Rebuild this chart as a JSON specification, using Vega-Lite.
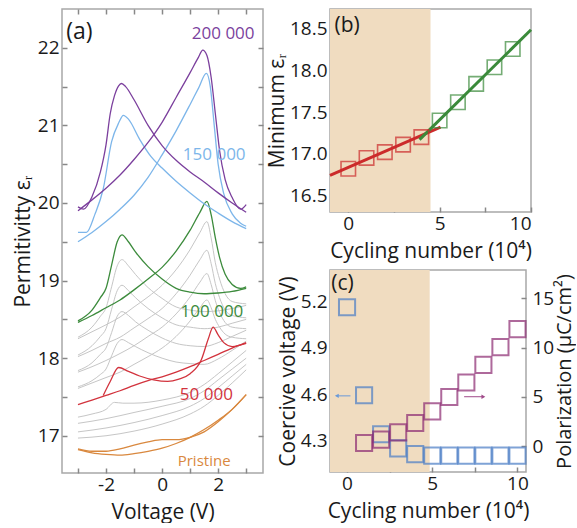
{
"$schema": "https://vega.github.io/schema/vega-lite/v6.json",
"padding": {"left": 11, "top": 7, "right": 0, "bottom": 0},
"config": {
 "font": "Open Sans",
 "view": {"stroke": "#a8a8a8", "strokeWidth": 1.5},
 "axis": {"labelFont": "Open Sans", "titleFont": "Open Sans", "labelFontSize": 19, "titleFontSize": 21, "titleFontWeight": "normal", "labelColor": "#1a1a1a", "titleColor": "#1a1a1a", "ticks": true, "tickColor": "#888888", "tickSize": 5, "offset": -5, "tickWidth": 1.5, "zindex": 1, "domain": false, "grid": false, "labelPadding": 3, "titlePadding": 4},
 "axisBottom": {"labelPadding": 2, "titlePadding": 7}
},
"resolve": {"scale": {"color": "independent"}},
"datasets": {
 "gray": [
  {"g":"g90A","v":-3,"e":18.25},{"g":"g90A","v":-2.5,"e":18.34},{"g":"g90A","v":-2,"e":18.43},{"g":"g90A","v":-1.5,"e":18.53},{"g":"g90A","v":-1,"e":18.66},{"g":"g90A","v":-0.5,"e":18.79},{"g":"g90A","v":0,"e":18.94},{"g":"g90A","v":0.5,"e":19.14},{"g":"g90A","v":1,"e":19.4},{"g":"g90A","v":1.35,"e":19.62},{"g":"g90A","v":1.6,"e":19.76},{"g":"g90A","v":1.75,"e":19.55},{"g":"g90A","v":1.9,"e":19.23},{"g":"g90A","v":2.05,"e":19.02},{"g":"g90A","v":2.25,"e":18.83},{"g":"g90A","v":2.5,"e":18.73},{"g":"g90A","v":3,"e":18.7},
  {"g":"g90B","v":-3,"e":18.27},{"g":"g90B","v":-2.5,"e":18.4},{"g":"g90B","v":-2.2,"e":18.54},{"g":"g90B","v":-2,"e":18.65},{"g":"g90B","v":-1.8,"e":18.92},{"g":"g90B","v":-1.6,"e":19.19},{"g":"g90B","v":-1.43,"e":19.27},{"g":"g90B","v":-1.2,"e":19.19},{"g":"g90B","v":-0.95,"e":19.08},{"g":"g90B","v":-0.5,"e":18.91},{"g":"g90B","v":0,"e":18.77},{"g":"g90B","v":0.5,"e":18.66},{"g":"g90B","v":1,"e":18.62},{"g":"g90B","v":1.5,"e":18.6},{"g":"g90B","v":2,"e":18.61},{"g":"g90B","v":2.5,"e":18.64},{"g":"g90B","v":3,"e":18.68},
  {"g":"g80A","v":-3,"e":18.02},{"g":"g80A","v":-2.5,"e":18.1},{"g":"g80A","v":-2,"e":18.19},{"g":"g80A","v":-1.5,"e":18.27},{"g":"g80A","v":-1,"e":18.39},{"g":"g80A","v":-0.5,"e":18.51},{"g":"g80A","v":0,"e":18.64},{"g":"g80A","v":0.5,"e":18.83},{"g":"g80A","v":1,"e":19.07},{"g":"g80A","v":1.35,"e":19.27},{"g":"g80A","v":1.6,"e":19.39},{"g":"g80A","v":1.75,"e":19.22},{"g":"g80A","v":1.9,"e":18.96},{"g":"g80A","v":2.05,"e":18.78},{"g":"g80A","v":2.25,"e":18.62},{"g":"g80A","v":2.5,"e":18.55},{"g":"g80A","v":3,"e":18.52},
  {"g":"g80B","v":-3,"e":18.04},{"g":"g80B","v":-2.5,"e":18.16},{"g":"g80B","v":-2.2,"e":18.28},{"g":"g80B","v":-2,"e":18.38},{"g":"g80B","v":-1.8,"e":18.63},{"g":"g80B","v":-1.6,"e":18.87},{"g":"g80B","v":-1.43,"e":18.94},{"g":"g80B","v":-1.2,"e":18.87},{"g":"g80B","v":-0.95,"e":18.78},{"g":"g80B","v":-0.5,"e":18.64},{"g":"g80B","v":0,"e":18.52},{"g":"g80B","v":0.5,"e":18.43},{"g":"g80B","v":1,"e":18.4},{"g":"g80B","v":1.5,"e":18.38},{"g":"g80B","v":2,"e":18.4},{"g":"g80B","v":2.5,"e":18.45},{"g":"g80B","v":3,"e":18.5},
  {"g":"g70A","v":-3,"e":17.82},{"g":"g70A","v":-2.5,"e":17.89},{"g":"g70A","v":-2,"e":17.97},{"g":"g70A","v":-1.5,"e":18.06},{"g":"g70A","v":-1,"e":18.16},{"g":"g70A","v":-0.5,"e":18.28},{"g":"g70A","v":0,"e":18.4},{"g":"g70A","v":0.5,"e":18.57},{"g":"g70A","v":1,"e":18.79},{"g":"g70A","v":1.35,"e":18.98},{"g":"g70A","v":1.6,"e":19.09},{"g":"g70A","v":1.75,"e":18.95},{"g":"g70A","v":1.9,"e":18.74},{"g":"g70A","v":2.05,"e":18.59},{"g":"g70A","v":2.25,"e":18.46},{"g":"g70A","v":2.5,"e":18.4},{"g":"g70A","v":3,"e":18.38},
  {"g":"g70B","v":-3,"e":17.84},{"g":"g70B","v":-2.5,"e":17.94},{"g":"g70B","v":-2.2,"e":18.05},{"g":"g70B","v":-2,"e":18.13},{"g":"g70B","v":-1.8,"e":18.33},{"g":"g70B","v":-1.6,"e":18.54},{"g":"g70B","v":-1.43,"e":18.6},{"g":"g70B","v":-1.2,"e":18.55},{"g":"g70B","v":-0.95,"e":18.47},{"g":"g70B","v":-0.5,"e":18.36},{"g":"g70B","v":0,"e":18.26},{"g":"g70B","v":0.5,"e":18.19},{"g":"g70B","v":1,"e":18.16},{"g":"g70B","v":1.5,"e":18.15},{"g":"g70B","v":2,"e":18.2},{"g":"g70B","v":2.5,"e":18.28},{"g":"g70B","v":3,"e":18.36},
  {"g":"g60A","v":-3,"e":17.61},{"g":"g60A","v":-2.5,"e":17.68},{"g":"g60A","v":-2,"e":17.75},{"g":"g60A","v":-1.5,"e":17.82},{"g":"g60A","v":-1,"e":17.92},{"g":"g60A","v":-0.5,"e":18.02},{"g":"g60A","v":0,"e":18.13},{"g":"g60A","v":0.5,"e":18.28},{"g":"g60A","v":1,"e":18.48},{"g":"g60A","v":1.35,"e":18.65},{"g":"g60A","v":1.6,"e":18.75},{"g":"g60A","v":1.75,"e":18.65},{"g":"g60A","v":1.9,"e":18.5},{"g":"g60A","v":2.05,"e":18.4},{"g":"g60A","v":2.25,"e":18.31},{"g":"g60A","v":2.5,"e":18.27},{"g":"g60A","v":3,"e":18.25},
  {"g":"g60B","v":-3,"e":17.63},{"g":"g60B","v":-2.5,"e":17.71},{"g":"g60B","v":-2.2,"e":17.79},{"g":"g60B","v":-2,"e":17.86},{"g":"g60B","v":-1.8,"e":18.03},{"g":"g60B","v":-1.6,"e":18.19},{"g":"g60B","v":-1.43,"e":18.24},{"g":"g60B","v":-1.2,"e":18.2},{"g":"g60B","v":-0.95,"e":18.15},{"g":"g60B","v":-0.5,"e":18.07},{"g":"g60B","v":0,"e":18.0},{"g":"g60B","v":0.5,"e":17.95},{"g":"g60B","v":1,"e":17.93},{"g":"g60B","v":1.5,"e":17.92},{"g":"g60B","v":2,"e":17.99},{"g":"g60B","v":2.5,"e":18.1},{"g":"g60B","v":3,"e":18.22},
  {"g":"l4","v":-3,"e":17.24},{"g":"l4","v":-2.5,"e":17.28},{"g":"l4","v":-2,"e":17.34},{"g":"l4","v":-1.7,"e":17.43},{"g":"l4","v":-1.4,"e":17.42},{"g":"l4","v":-1,"e":17.42},{"g":"l4","v":0,"e":17.46},{"g":"l4","v":1,"e":17.56},{"g":"l4","v":1.5,"e":17.66},{"g":"l4","v":2,"e":17.8},{"g":"l4","v":2.5,"e":17.95},{"g":"l4","v":3,"e":18.1},
  {"g":"l3","v":-3,"e":17.16},{"g":"l3","v":-2,"e":17.22},{"g":"l3","v":-1,"e":17.3},{"g":"l3","v":0,"e":17.38},{"g":"l3","v":1,"e":17.48},{"g":"l3","v":1.5,"e":17.58},{"g":"l3","v":2,"e":17.72},{"g":"l3","v":2.5,"e":17.86},{"g":"l3","v":3,"e":18.0},
  {"g":"l2","v":-3,"e":17.05},{"g":"l2","v":-2,"e":17.1},{"g":"l2","v":-1,"e":17.17},{"g":"l2","v":0,"e":17.26},{"g":"l2","v":1,"e":17.38},{"g":"l2","v":1.5,"e":17.48},{"g":"l2","v":2,"e":17.62},{"g":"l2","v":2.5,"e":17.77},{"g":"l2","v":3,"e":17.92},
  {"g":"l1","v":-3,"e":16.97},{"g":"l1","v":-2,"e":17.0},{"g":"l1","v":-1,"e":17.06},{"g":"l1","v":0,"e":17.15},{"g":"l1","v":1,"e":17.28},{"g":"l1","v":1.5,"e":17.38},{"g":"l1","v":2,"e":17.52},{"g":"l1","v":2.5,"e":17.68},{"g":"l1","v":3,"e":17.85}
 ],
 "col": [
  {"g":"PrL","s":"Pristine","v":-3,"e":16.82},{"g":"PrL","s":"Pristine","v":-2.5,"e":16.78},{"g":"PrL","s":"Pristine","v":-2,"e":16.76},{"g":"PrL","s":"Pristine","v":-1.5,"e":16.75},{"g":"PrL","s":"Pristine","v":-1,"e":16.77},{"g":"PrL","s":"Pristine","v":-0.5,"e":16.8},{"g":"PrL","s":"Pristine","v":0,"e":16.84},{"g":"PrL","s":"Pristine","v":0.5,"e":16.9},{"g":"PrL","s":"Pristine","v":1,"e":16.98},{"g":"PrL","s":"Pristine","v":1.5,"e":17.08},{"g":"PrL","s":"Pristine","v":2,"e":17.2},{"g":"PrL","s":"Pristine","v":2.5,"e":17.34},{"g":"PrL","s":"Pristine","v":3,"e":17.53},
  {"g":"PrU","s":"Pristine","v":-3,"e":16.83},{"g":"PrU","s":"Pristine","v":-2.5,"e":16.8},{"g":"PrU","s":"Pristine","v":-2,"e":16.8},{"g":"PrU","s":"Pristine","v":-1.5,"e":16.83},{"g":"PrU","s":"Pristine","v":-1,"e":16.88},{"g":"PrU","s":"Pristine","v":-0.5,"e":16.92},{"g":"PrU","s":"Pristine","v":0,"e":16.95},{"g":"PrU","s":"Pristine","v":0.5,"e":16.95},{"g":"PrU","s":"Pristine","v":1,"e":16.98},{"g":"PrU","s":"Pristine","v":1.5,"e":17.05},{"g":"PrU","s":"Pristine","v":2,"e":17.18},{"g":"PrU","s":"Pristine","v":2.5,"e":17.34},{"g":"PrU","s":"Pristine","v":3,"e":17.53},
  {"g":"R50S","s":"50 000","v":-3,"e":17.4},{"g":"R50S","s":"50 000","v":-2.5,"e":17.46},{"g":"R50S","s":"50 000","v":-2,"e":17.52},{"g":"R50S","s":"50 000","v":-1.5,"e":17.58},{"g":"R50S","s":"50 000","v":-1,"e":17.65},{"g":"R50S","s":"50 000","v":-0.5,"e":17.71},{"g":"R50S","s":"50 000","v":0,"e":17.76},{"g":"R50S","s":"50 000","v":0.5,"e":17.82},{"g":"R50S","s":"50 000","v":1,"e":17.89},{"g":"R50S","s":"50 000","v":1.5,"e":17.97},{"g":"R50S","s":"50 000","v":2,"e":18.05},{"g":"R50S","s":"50 000","v":2.5,"e":18.13},{"g":"R50S","s":"50 000","v":3,"e":18.2},
  {"g":"R50P","s":"50 000","v":-2.1,"e":17.52},{"g":"R50P","s":"50 000","v":-1.85,"e":17.7},{"g":"R50P","s":"50 000","v":-1.55,"e":17.88},{"g":"R50P","s":"50 000","v":-1.2,"e":17.83},{"g":"R50P","s":"50 000","v":-0.8,"e":17.77},{"g":"R50P","s":"50 000","v":-0.3,"e":17.72},{"g":"R50P","s":"50 000","v":0.2,"e":17.7},{"g":"R50P","s":"50 000","v":0.6,"e":17.73},{"g":"R50P","s":"50 000","v":1,"e":17.8},{"g":"R50P","s":"50 000","v":1.4,"e":17.98},{"g":"R50P","s":"50 000","v":1.65,"e":18.25},{"g":"R50P","s":"50 000","v":1.82,"e":18.4},{"g":"R50P","s":"50 000","v":2,"e":18.3},{"g":"R50P","s":"50 000","v":2.2,"e":18.2},{"g":"R50P","s":"50 000","v":2.5,"e":18.15},{"g":"R50P","s":"50 000","v":3,"e":18.19},
  {"g":"G100A","s":"100 000","v":-3,"e":18.46},{"g":"G100A","s":"100 000","v":-2.5,"e":18.55},{"g":"G100A","s":"100 000","v":-2,"e":18.65},{"g":"G100A","s":"100 000","v":-1.5,"e":18.75},{"g":"G100A","s":"100 000","v":-1,"e":18.88},{"g":"G100A","s":"100 000","v":-0.5,"e":19.02},{"g":"G100A","s":"100 000","v":0,"e":19.17},{"g":"G100A","s":"100 000","v":0.5,"e":19.38},{"g":"G100A","s":"100 000","v":1,"e":19.65},{"g":"G100A","s":"100 000","v":1.35,"e":19.88},{"g":"G100A","s":"100 000","v":1.6,"e":20.02},{"g":"G100A","s":"100 000","v":1.75,"e":19.85},{"g":"G100A","s":"100 000","v":1.9,"e":19.55},{"g":"G100A","s":"100 000","v":2.05,"e":19.3},{"g":"G100A","s":"100 000","v":2.25,"e":19.08},{"g":"G100A","s":"100 000","v":2.5,"e":18.95},{"g":"G100A","s":"100 000","v":2.8,"e":18.9},{"g":"G100A","s":"100 000","v":3,"e":18.92},
  {"g":"G100B","s":"100 000","v":-3,"e":18.48},{"g":"G100B","s":"100 000","v":-2.5,"e":18.62},{"g":"G100B","s":"100 000","v":-2.2,"e":18.78},{"g":"G100B","s":"100 000","v":-2,"e":18.9},{"g":"G100B","s":"100 000","v":-1.8,"e":19.2},{"g":"G100B","s":"100 000","v":-1.6,"e":19.5},{"g":"G100B","s":"100 000","v":-1.43,"e":19.59},{"g":"G100B","s":"100 000","v":-1.2,"e":19.5},{"g":"G100B","s":"100 000","v":-0.95,"e":19.37},{"g":"G100B","s":"100 000","v":-0.5,"e":19.18},{"g":"G100B","s":"100 000","v":0,"e":19.02},{"g":"G100B","s":"100 000","v":0.5,"e":18.9},{"g":"G100B","s":"100 000","v":1,"e":18.85},{"g":"G100B","s":"100 000","v":1.5,"e":18.83},{"g":"G100B","s":"100 000","v":2,"e":18.84},{"g":"G100B","s":"100 000","v":2.5,"e":18.86},{"g":"G100B","s":"100 000","v":3,"e":18.9},
  {"g":"B150A","s":"150 000","v":-3,"e":19.5},{"g":"B150A","s":"150 000","v":-2.5,"e":19.62},{"g":"B150A","s":"150 000","v":-2,"e":19.76},{"g":"B150A","s":"150 000","v":-1.5,"e":19.92},{"g":"B150A","s":"150 000","v":-1,"e":20.1},{"g":"B150A","s":"150 000","v":-0.5,"e":20.33},{"g":"B150A","s":"150 000","v":0,"e":20.62},{"g":"B150A","s":"150 000","v":0.5,"e":20.93},{"g":"B150A","s":"150 000","v":1,"e":21.27},{"g":"B150A","s":"150 000","v":1.3,"e":21.48},{"g":"B150A","s":"150 000","v":1.58,"e":21.67},{"g":"B150A","s":"150 000","v":1.72,"e":21.5},{"g":"B150A","s":"150 000","v":1.86,"e":21.0},{"g":"B150A","s":"150 000","v":2,"e":20.5},{"g":"B150A","s":"150 000","v":2.2,"e":20.12},{"g":"B150A","s":"150 000","v":2.5,"e":19.86},{"g":"B150A","s":"150 000","v":2.8,"e":19.74},{"g":"B150A","s":"150 000","v":3,"e":19.7},
  {"g":"B150B","s":"150 000","v":-3,"e":19.62},{"g":"B150B","s":"150 000","v":-2.7,"e":19.62},{"g":"B150B","s":"150 000","v":-2.4,"e":19.85},{"g":"B150B","s":"150 000","v":-2.1,"e":20.18},{"g":"B150B","s":"150 000","v":-1.8,"e":20.79},{"g":"B150B","s":"150 000","v":-1.55,"e":21.03},{"g":"B150B","s":"150 000","v":-1.38,"e":21.13},{"g":"B150B","s":"150 000","v":-1.2,"e":21.08},{"g":"B150B","s":"150 000","v":-0.8,"e":20.82},{"g":"B150B","s":"150 000","v":-0.4,"e":20.6},{"g":"B150B","s":"150 000","v":0,"e":20.45},{"g":"B150B","s":"150 000","v":0.5,"e":20.28},{"g":"B150B","s":"150 000","v":1,"e":20.13},{"g":"B150B","s":"150 000","v":1.5,"e":19.99},{"g":"B150B","s":"150 000","v":2,"e":19.87},{"g":"B150B","s":"150 000","v":2.5,"e":19.76},{"g":"B150B","s":"150 000","v":3,"e":19.67},
  {"g":"P200A","s":"200 000","v":-3,"e":19.9},{"g":"P200A","s":"200 000","v":-2.5,"e":20.04},{"g":"P200A","s":"200 000","v":-2,"e":20.19},{"g":"P200A","s":"200 000","v":-1.5,"e":20.36},{"g":"P200A","s":"200 000","v":-1,"e":20.56},{"g":"P200A","s":"200 000","v":-0.5,"e":20.78},{"g":"P200A","s":"200 000","v":0,"e":21.04},{"g":"P200A","s":"200 000","v":0.5,"e":21.36},{"g":"P200A","s":"200 000","v":1,"e":21.68},{"g":"P200A","s":"200 000","v":1.3,"e":21.88},{"g":"P200A","s":"200 000","v":1.45,"e":21.97},{"g":"P200A","s":"200 000","v":1.6,"e":21.9},{"g":"P200A","s":"200 000","v":1.75,"e":21.62},{"g":"P200A","s":"200 000","v":1.9,"e":21.15},{"g":"P200A","s":"200 000","v":2.05,"e":20.68},{"g":"P200A","s":"200 000","v":2.25,"e":20.3},{"g":"P200A","s":"200 000","v":2.5,"e":20.07},{"g":"P200A","s":"200 000","v":2.8,"e":19.92},{"g":"P200A","s":"200 000","v":3,"e":19.98},
  {"g":"P200B","s":"200 000","v":-3,"e":19.95},{"g":"P200B","s":"200 000","v":-2.8,"e":19.92},{"g":"P200B","s":"200 000","v":-2.5,"e":20.08},{"g":"P200B","s":"200 000","v":-2.2,"e":20.4},{"g":"P200B","s":"200 000","v":-2,"e":20.75},{"g":"P200B","s":"200 000","v":-1.85,"e":21.15},{"g":"P200B","s":"200 000","v":-1.7,"e":21.38},{"g":"P200B","s":"200 000","v":-1.55,"e":21.51},{"g":"P200B","s":"200 000","v":-1.45,"e":21.54},{"g":"P200B","s":"200 000","v":-1.3,"e":21.5},{"g":"P200B","s":"200 000","v":-1,"e":21.33},{"g":"P200B","s":"200 000","v":-0.5,"e":21.0},{"g":"P200B","s":"200 000","v":0,"e":20.74},{"g":"P200B","s":"200 000","v":0.5,"e":20.55},{"g":"P200B","s":"200 000","v":1,"e":20.4},{"g":"P200B","s":"200 000","v":1.5,"e":20.27},{"g":"P200B","s":"200 000","v":2,"e":20.13},{"g":"P200B","s":"200 000","v":2.5,"e":20.0},{"g":"P200B","s":"200 000","v":3,"e":19.88}
 ],
 "alab": [
  {"t":"200 000","s":"200 000","v":2.18,"e":22.18},
  {"t":"150 000","s":"150 000","v":1.86,"e":20.62},
  {"t":"100 000","s":"100 000","v":1.78,"e":18.6},
  {"t":"50 000","s":"50 000","v":1.58,"e":17.53},
  {"t":"Pristine","s":"Pristine","v":1.5,"e":16.68}
 ],
 "bfit": [
  {"k":"low","n":-1,"m":16.74},{"k":"low","n":5.05,"m":17.32},
  {"k":"high","n":3.9,"m":17.17},{"k":"high","n":10,"m":18.49}
 ],
 "bpts": [
  {"k":"low","n":0,"m":16.82},{"k":"low","n":1,"m":16.95},{"k":"low","n":2,"m":17.02},{"k":"low","n":3,"m":17.11},{"k":"low","n":4,"m":17.2},
  {"k":"high","n":5,"m":17.4},{"k":"high","n":6,"m":17.62},{"k":"high","n":7,"m":17.84},{"k":"high","n":8,"m":18.04},{"k":"high","n":9,"m":18.26}
 ],
 "cv": [
  {"n":0,"c":5.16},{"n":1,"c":4.594},{"n":2,"c":4.343},{"n":3,"c":4.252},{"n":4,"c":4.215},{"n":5,"c":4.205},{"n":6,"c":4.205},{"n":7,"c":4.205},{"n":8,"c":4.205},{"n":9,"c":4.205},{"n":10,"c":4.205}
 ],
 "pol": [
  {"n":1,"p":0.34},{"n":2,"p":0.68},{"n":3,"p":1.41},{"n":4,"p":2.36},{"n":5,"p":3.54},{"n":6,"p":4.99},{"n":7,"p":6.46},{"n":8,"p":8.25},{"n":9,"p":10.04},{"n":10,"p":11.86}
 ]
},
"spacing": 0,
"hconcat": [
 {
  "width": 201, "height": 464,
  "resolve": {"axis": {"x": "independent", "y": "independent"}},
  "layer": [
   {"data": {"name": "gray"},
    "mark": {"type": "line", "interpolate": "monotone", "strokeWidth": 1, "color": "#c6c6c6"},
    "encoding": {
     "x": {"field": "v", "type": "quantitative", "scale": {"domain": [-3.57, 3.6], "nice": false, "zero": false},
           "axis": {"values": [-3,-2,-1,0,1,2,3], "labelExpr": "datum.value % 2 ? '' : '' + datum.value", "title": "Voltage (V)"}},
     "y": {"field": "e", "type": "quantitative", "scale": {"domain": [16.52, 22.5], "nice": false, "zero": false},
           "axis": {"values": [17,17.5,18,18.5,19,19.5,20,20.5,21,21.5,22], "labelExpr": "datum.value % 1 ? '' : '' + datum.value", "title": "Permitivitty εᵣ"}},
     "detail": {"field": "g"}
    }},
   {"data": {"name": "col"},
    "mark": {"type": "line", "interpolate": "monotone", "strokeWidth": 1.3},
    "encoding": {
     "x": {"field": "v", "type": "quantitative", "axis": {"orient": "top", "values": [-3,-2,-1,0,1,2,3], "labels": false, "title": null}},
     "y": {"field": "e", "type": "quantitative", "axis": {"orient": "right", "values": [17,17.5,18,18.5,19,19.5,20,20.5,21,21.5,22], "labels": false, "title": null}},
     "detail": {"field": "g"},
     "color": {"field": "s", "type": "nominal", "scale": {"domain": ["Pristine","50 000","100 000","150 000","200 000"], "range": ["#d9883e","#d2333d","#3c8b3c","#7db6ea","#7b3f9d"]}, "legend": null}
    }},
   {"data": {"name": "alab"},
    "mark": {"type": "text"},
    "encoding": {
     "x": {"field": "v", "type": "quantitative", "axis": null},
     "y": {"field": "e", "type": "quantitative", "axis": null},
     "text": {"field": "t"},
     "color": {"field": "s", "type": "nominal", "legend": null},
     "size": {"condition": {"test": "datum.t == 'Pristine'", "value": 15}, "value": 17}
    }},
   {"data": {"values": [{"t": "(a)", "v": -3.42, "e": 22.2}]},
    "mark": {"type": "text", "fontSize": 23, "align": "left", "color": "#1a1a1a"},
    "encoding": {
     "x": {"field": "v", "type": "quantitative", "axis": null},
     "y": {"field": "e", "type": "quantitative", "axis": null},
     "text": {"field": "t"}
    }}
  ]
 },
 {
  "spacing": 7,
  "resolve": {"scale": {"color": "independent"}},
  "vconcat": [
   {
    "width": 201, "height": 203,
    "resolve": {"axis": {"x": "independent", "y": "independent"}},
    "layer": [
     {"data": {"values": [{"a": -1, "b": 4.5}]},
      "mark": {"type": "rect", "color": "#f0dcc0"},
      "encoding": {
       "x": {"field": "a", "type": "quantitative", "scale": {"domain": [-1, 10], "nice": false, "zero": false},
             "axis": {"values": [0,2.5,5,7.5,10], "labelExpr": "datum.value % 5 ? '' : '' + datum.value", "title": "Cycling number (10⁴)"}},
       "x2": {"field": "b"}
      }},
     {"data": {"name": "bfit"},
      "mark": {"type": "line", "strokeWidth": 3},
      "encoding": {
       "x": {"field": "n", "type": "quantitative", "axis": null},
       "y": {"field": "m", "type": "quantitative", "scale": {"domain": [16.3, 18.74], "nice": false, "zero": false},
             "axis": {"values": [16.5,17,17.5,18,18.5], "format": ".1f", "title": "Minimum εᵣ", "titlePadding": 2}},
       "detail": {"field": "k"},
       "color": {"field": "k", "type": "nominal", "scale": {"domain": ["low","high"], "range": ["#cc2b2b","#3a8a3a"]}, "legend": null}
      }},
     {"data": {"name": "bpts"},
      "mark": {"type": "point", "shape": "square", "filled": false, "size": 210, "strokeWidth": 1.6},
      "encoding": {
       "x": {"field": "n", "type": "quantitative", "axis": null},
       "y": {"field": "m", "type": "quantitative", "axis": null},
       "color": {"field": "k", "type": "nominal", "legend": null}
      }},
     {"data": {"values": [{"t": "(b)", "n": -0.75, "m": 18.53}]},
      "mark": {"type": "text", "fontSize": 21, "align": "left", "color": "#1a1a1a"},
      "encoding": {
       "x": {"field": "n", "type": "quantitative", "axis": null},
       "y": {"field": "m", "type": "quantitative", "axis": null},
       "text": {"field": "t"}
      }}
    ]
   },
   {
    "width": 196, "height": 202,
    "resolve": {"scale": {"y": "independent"}, "axis": {"x": "independent"}},
    "layer": [
     {"layer": [
       {"data": {"values": [{"a": -1, "b": 4.85}]},
        "mark": {"type": "rect", "color": "#f0dcc0"},
        "encoding": {
         "x": {"field": "a", "type": "quantitative", "scale": {"domain": [-1, 10.5], "nice": false, "zero": false},
               "axis": {"values": [0,2.5,5,7.5,10], "labelExpr": "datum.value % 5 ? '' : '' + datum.value", "title": "Cycling number (10⁴)"}},
         "x2": {"field": "b"}
        }},
       {"data": {"name": "cv"},
        "mark": {"type": "point", "shape": "square", "filled": false, "size": 260, "strokeWidth": 2, "color": "#4a7dc6"},
        "encoding": {
         "x": {"field": "n", "type": "quantitative"},
         "y": {"field": "c", "type": "quantitative", "scale": {"domain": [4.1, 5.4], "nice": false, "zero": false},
               "axis": {"orient": "left", "values": [4.3,4.45,4.6,4.75,4.9,5.05,5.2,5.35], "labelExpr": "abs(datum.value*10 - round(datum.value*10)) < 0.01 ? format(datum.value, '.1f') : ''", "title": "Coercive voltage (V)", "titlePadding": 2}}
        }},
       {"data": {"values": [{"x0": -0.6, "x1": 0.2, "y": 4.59}]},
        "mark": {"type": "rule", "strokeWidth": 1, "color": "#6a9ad8"},
        "encoding": {
         "x": {"field": "x0", "type": "quantitative"},
         "x2": {"field": "x1"},
         "y": {"field": "y", "type": "quantitative"}
        }},
       {"data": {"values": [{"x0": -0.6, "y": 4.59}]},
        "mark": {"type": "point", "shape": "triangle-left", "filled": true, "size": 20, "color": "#6a9ad8", "opacity": 1},
        "encoding": {
         "x": {"field": "x0", "type": "quantitative"},
         "y": {"field": "y", "type": "quantitative"}
        }},
       {"data": {"values": [{"t": "(c)", "n": -0.92, "c": 5.31}]},
        "mark": {"type": "text", "fontSize": 21, "align": "left", "color": "#1a1a1a"},
        "encoding": {
         "x": {"field": "n", "type": "quantitative"},
         "y": {"field": "c", "type": "quantitative"},
         "text": {"field": "t"}
        }}
      ]},
     {"layer": [
       {"data": {"name": "pol"},
        "mark": {"type": "point", "shape": "square", "filled": false, "size": 260, "strokeWidth": 2, "color": "#8c2a72"},
        "encoding": {
         "x": {"field": "n", "type": "quantitative", "axis": null},
         "y": {"field": "p", "type": "quantitative", "scale": {"domain": [-2.6, 17.85], "nice": false, "zero": false},
               "axis": {"orient": "right", "values": [0,2.5,5,7.5,10,12.5,15], "labelExpr": "datum.value % 5 ? '' : '' + datum.value", "title": "Polarization (μC/cm²)", "titleAngle": -90, "titleBaseline": "top", "titleFontSize": 20, "labelPadding": 6, "titlePadding": 1}}
        }},
       {"data": {"values": [{"x0": 6.87, "x1": 8.0, "y": 5.02}]},
        "mark": {"type": "rule", "strokeWidth": 1, "color": "#a04a8a"},
        "encoding": {
         "x": {"field": "x0", "type": "quantitative", "axis": null},
         "x2": {"field": "x1"},
         "y": {"field": "y", "type": "quantitative"}
        }},
       {"data": {"values": [{"x1": 8.0, "y": 5.02}]},
        "mark": {"type": "point", "shape": "triangle-right", "filled": true, "size": 20, "color": "#a04a8a", "opacity": 1},
        "encoding": {
         "x": {"field": "x1", "type": "quantitative", "axis": null},
         "y": {"field": "y", "type": "quantitative"}
        }}
      ]}
    ]
   }
  ]
 }
]
}
